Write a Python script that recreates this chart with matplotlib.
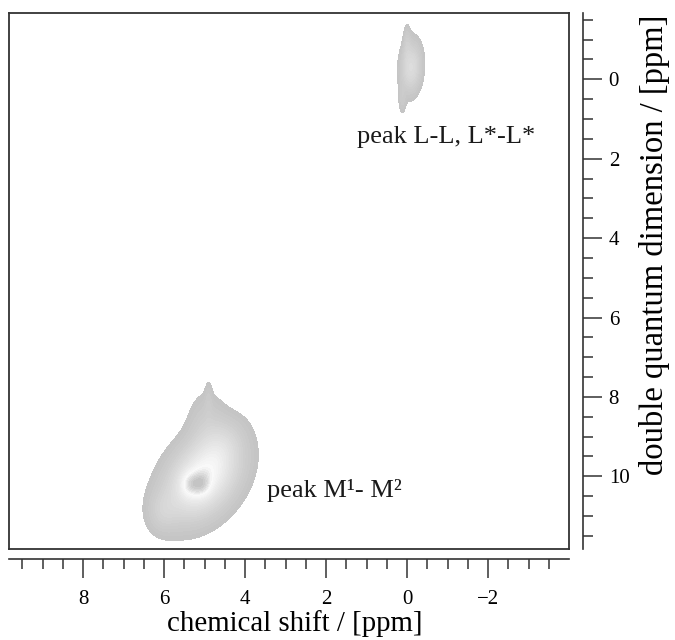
import numpy as np
import matplotlib.pyplot as plt
from matplotlib.colors import LinearSegmentedColormap
from matplotlib.ticker import FixedLocator

plt.rcParams["font.family"] = ["Liberation Serif", "DejaVu Serif"]

# Peak components (ppm): centre, width, tilt, height
comp_x = [5.05, 5.38, 5.08, 4.55, 4.95, 4.90, 6.05, -0.10, 0.00, 0.12]
comp_y = [10.05, 10.20, 10.20, 9.20, 8.60, 8.00, 10.90, -0.30, -1.00, 0.55]
comp_sx = [0.62, 0.16, 0.16, 0.35, 0.32, 0.06, 0.25, 0.18, 0.06, 0.06]
comp_sy = [0.70, 0.22, 0.22, 0.45, 0.55, 0.35, 0.35, 0.45, 0.30, 0.25]
comp_rho = [0.35, 0.0, 0.0, 0.3, 0.0, 0.0, 0.0, 0.1, 0.0, 0.0]
comp_amp = [0.80, 0.22, 0.22, 0.14, 0.14, 0.07, 0.15, 0.42, 0.12, 0.12]

label_text = ["peak L-L, L*-L*", "peak M¹- M²"]
label_x = [1.23, 3.46]
label_y = [1.45, 10.35]

x_major = [8, 6, 4, 2, 0, -2]
x_minor = [9.5, 9, 8.5, 7.5, 7, 6.5, 5.5, 5, 4.5, 3.5, 3, 2.5, 1.5, 1, 0.5,
           -0.5, -1, -1.5, -2.5, -3, -3.5]
y_major = [0, 2, 4, 6, 8, 10]
y_minor = [-1.5, -1, -0.5, 0.5, 1, 1.5, 2.5, 3, 3.5, 4.5, 5, 5.5, 6.5, 7,
           7.5, 8.5, 9, 9.5, 10.5, 11, 11.5]

xs = np.linspace(-4.2, 10.0, 700)
ys = np.linspace(-2.0, 12.0, 700)
X, Y = np.meshgrid(xs, ys)
Z = np.zeros_like(X)
for cx, cy, sx, sy, rho, a in zip(comp_x, comp_y, comp_sx, comp_sy,
                                  comp_rho, comp_amp):
    u = (X - cx) / sx
    v = (Y - cy) / sy
    Z += a * np.exp(-(u * u - 2 * rho * u * v + v * v) / (2 * (1 - rho ** 2)))

greys = LinearSegmentedColormap.from_list(
    "nmr", [(0.0, "#c4c4c4"), (0.5, "#e6e6e6"), (0.75, "#fafafa"),
            (0.88, "#dcdcdc"), (1.0, "#c0c0c0")])

fig = plt.figure(figsize=(6.75, 6.4), dpi=100)
ax = fig.add_axes([9 / 675, 91 / 640, 560 / 675, 536 / 640])

levels = np.linspace(0.07, Z.max(), 30)
ax.contourf(X, Y, Z, levels=levels, cmap=greys, vmin=0.07, vmax=Z.max())

for t, lx, ly in zip(label_text, label_x, label_y):
    ax.text(lx, ly, t, fontsize=19, ha="left", va="center", color="#1a1a1a")

ax.set_xlim(9.83, -4.0)
ax.set_ylim(11.83, -1.67)
ax.set_xticks([])
ax.set_yticks([])
for sp in ax.spines.values():
    sp.set_color("#333333")
    sp.set_linewidth(1.3)

secx = ax.secondary_xaxis(-0.0187)
secx.xaxis.set_major_locator(FixedLocator(x_major))
secx.xaxis.set_minor_locator(FixedLocator(x_minor))
secx.tick_params(which="major", direction="out", length=13.5, width=1.1,
                 labelsize=15, pad=9, color="#333333")
secx.tick_params(which="minor", direction="out", length=7, width=1.1,
                 color="#333333")
secx.spines["bottom"].set_color("#333333")
secx.spines["bottom"].set_linewidth(1.2)

secy = ax.secondary_yaxis(1.025)
secy.yaxis.set_major_locator(FixedLocator(y_major))
secy.yaxis.set_minor_locator(FixedLocator(y_minor))
secy.tick_params(which="major", direction="out", length=13.5, width=1.1,
                 labelsize=15, pad=5, color="#333333")
secy.tick_params(which="minor", direction="out", length=7, width=1.1,
                 color="#333333")
secy.spines["right"].set_color("#333333")
secy.spines["right"].set_linewidth(1.2)

fig.text(295 / 675, 1 - 624 / 640, "chemical shift / [ppm]",
         fontsize=20.8, ha="center", va="center")
fig.text(655 / 675, 1 - 245 / 640, "double quantum dimension / [ppm]",
         fontsize=23.5, rotation=90, ha="center", va="center")

fig.savefig("out.png", dpi=100)
